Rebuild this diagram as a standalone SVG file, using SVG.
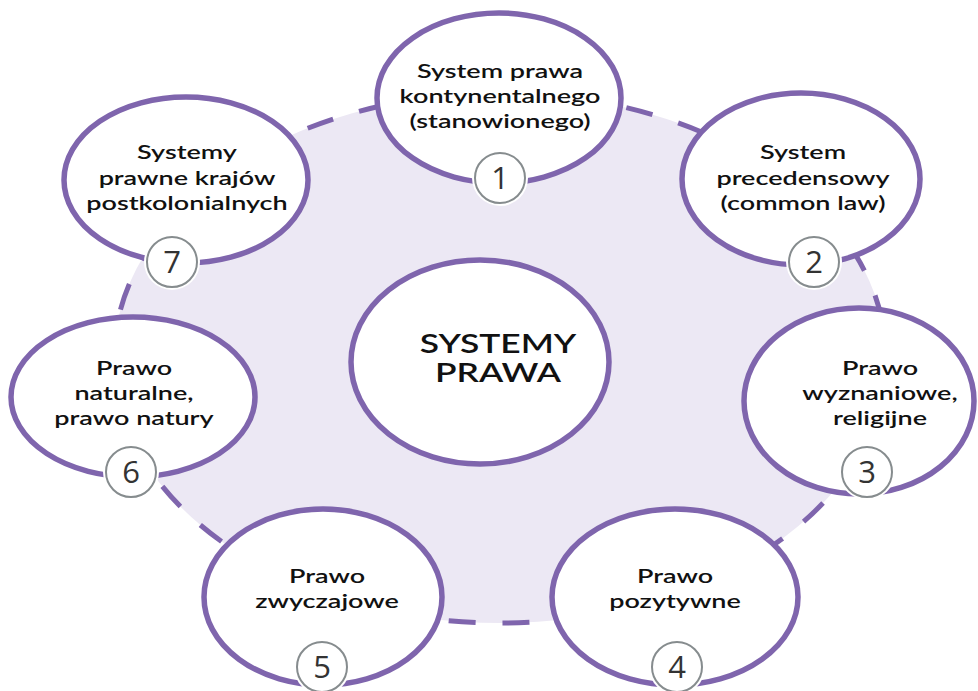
<svg xmlns="http://www.w3.org/2000/svg" width="978" height="691" viewBox="0 0 978 691">
<style>
.bg{fill:#ffffff}
.ring{fill:#ECE8F4;stroke:#7F65AD;stroke-width:5;stroke-dasharray:27 27}
.node{fill:#ffffff;stroke:#7F65AD;stroke-width:5.5}
.num-bg{fill:#ffffff}
.num{fill:#ffffff;stroke:#868C8E;stroke-width:2}
.numt{font-family:"Open Sans","Liberation Sans",sans-serif;font-size:31px;fill:#333333;text-anchor:middle}
.lbl{font-family:Lato,"Liberation Sans",sans-serif;font-size:19px;font-weight:600;fill:#111111;text-anchor:middle}
.ctr{font-family:Lato,"Liberation Sans",sans-serif;font-size:26px;font-weight:600;fill:#111111;text-anchor:middle}
</style>
<rect class="bg" x="0" y="0" width="978" height="691"/>
<g id="ring">
<ellipse class="ring" cx="500" cy="358" rx="386" ry="265"/>
</g>
<g id="center">
<ellipse class="node" cx="480" cy="362" rx="129" ry="102"/>
<text class="ctr" transform="translate(498,0) scale(1.36,1)" x="0" y="353">SYSTEMY</text>
<text class="ctr" transform="translate(498,0) scale(1.36,1)" x="0" y="382">PRAWA</text>
</g>
<g id="node1">
<ellipse class="node" cx="499" cy="98" rx="122" ry="85"/>
<text class="lbl" transform="translate(500,0) scale(1.42,1)" x="0" y="78">System prawa</text>
<text class="lbl" transform="translate(500,0) scale(1.42,1)" x="0" y="103">kontynentalnego</text>
<text class="lbl" transform="translate(500,0) scale(1.42,1)" x="0" y="128">(stanowionego)</text>
<circle class="num-bg" cx="500" cy="178" r="28"/>
<circle class="num" cx="500" cy="178" r="25"/>
<text class="numt" x="500" y="189">1</text>
</g>
<g id="node2">
<ellipse class="node" cx="801" cy="179" rx="119" ry="86"/>
<text class="lbl" transform="translate(803,0) scale(1.42,1)" x="0" y="159">System</text>
<text class="lbl" transform="translate(803,0) scale(1.42,1)" x="0" y="185">precedensowy</text>
<text class="lbl" transform="translate(803,0) scale(1.42,1)" x="0" y="210">(common law)</text>
<circle class="num-bg" cx="814" cy="262" r="28"/>
<circle class="num" cx="814" cy="262" r="25"/>
<text class="numt" x="814" y="273">2</text>
</g>
<g id="node3">
<ellipse class="node" cx="859" cy="401" rx="115" ry="93"/>
<text class="lbl" transform="translate(880,0) scale(1.42,1)" x="0" y="375">Prawo</text>
<text class="lbl" transform="translate(880,0) scale(1.42,1)" x="0" y="400">wyznaniowe,</text>
<text class="lbl" transform="translate(880,0) scale(1.42,1)" x="0" y="425">religijne</text>
<circle class="num-bg" cx="867" cy="472" r="28"/>
<circle class="num" cx="867" cy="472" r="25"/>
<text class="numt" x="867" y="483">3</text>
</g>
<g id="node4">
<ellipse class="node" cx="675" cy="597" rx="123" ry="88"/>
<text class="lbl" transform="translate(675,0) scale(1.42,1)" x="0" y="583">Prawo</text>
<text class="lbl" transform="translate(675,0) scale(1.42,1)" x="0" y="608">pozytywne</text>
<circle class="num-bg" cx="677" cy="667" r="28"/>
<circle class="num" cx="677" cy="667" r="25"/>
<text class="numt" x="677" y="678">4</text>
</g>
<g id="node5">
<ellipse class="node" cx="323" cy="597" rx="119" ry="88"/>
<text class="lbl" transform="translate(327,0) scale(1.42,1)" x="0" y="583">Prawo</text>
<text class="lbl" transform="translate(327,0) scale(1.42,1)" x="0" y="608">zwyczajowe</text>
<circle class="num-bg" cx="322" cy="667" r="28"/>
<circle class="num" cx="322" cy="667" r="25"/>
<text class="numt" x="322" y="678">5</text>
</g>
<g id="node6">
<ellipse class="node" cx="133" cy="397" rx="122" ry="80"/>
<text class="lbl" transform="translate(134,0) scale(1.42,1)" x="0" y="375">Prawo</text>
<text class="lbl" transform="translate(134,0) scale(1.42,1)" x="0" y="400">naturalne,</text>
<text class="lbl" transform="translate(134,0) scale(1.42,1)" x="0" y="425">prawo natury</text>
<circle class="num-bg" cx="131" cy="472" r="28"/>
<circle class="num" cx="131" cy="472" r="25"/>
<text class="numt" x="131" y="483">6</text>
</g>
<g id="node7">
<ellipse class="node" cx="186" cy="180" rx="122" ry="83"/>
<text class="lbl" transform="translate(187,0) scale(1.42,1)" x="0" y="159">Systemy</text>
<text class="lbl" transform="translate(187,0) scale(1.42,1)" x="0" y="185">prawne krajów</text>
<text class="lbl" transform="translate(187,0) scale(1.42,1)" x="0" y="210">postkolonialnych</text>
<circle class="num-bg" cx="172" cy="262" r="28"/>
<circle class="num" cx="172" cy="262" r="25"/>
<text class="numt" x="172" y="273">7</text>
</g>
</svg>
